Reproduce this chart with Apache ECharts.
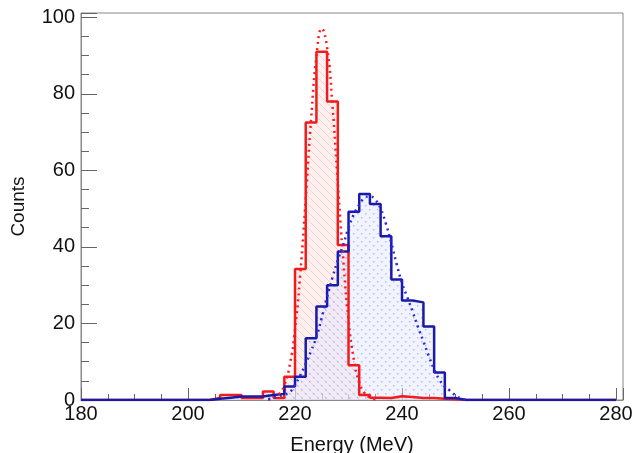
<!DOCTYPE html>
<html><head><meta charset="utf-8">
<script src="https://cdn.jsdelivr.net/npm/echarts@6/dist/echarts.min.js"></script>
<style>html,body{margin:0;padding:0;background:#fff}#c{width:633px;height:453px}</style>
</head><body><div id="c"></div>
<script>
// Bin lower edges (MeV), 2 MeV bins
const binLow = [180,182,184,186,188,190,192,194,196,198,200,202,204,206,208,210,212,214,216,218,
                220,222,224,226,228,230,232,234,236,238,240,242,244,246,248,250,252,254,256,258,
                260,262,264,266,268,270,272,274,276,278];
const binHigh = 280;
const redCounts = [0,0,0,0,0,0,0,0,0,0,0,0,0.5,1.3,1.3,0.5,0.5,2.2,0.5,6.1,
                   34.2,72.5,91,78,40.5,9.1,1.3,0.6,0.5,1.0,0.8,0.5,0.5,0.3,0.2,0,0,0,0,0,
                   0,0,0,0,0,0,0,0,0,0];
const blueCounts = [0,0,0,0,0,0,0,0,0,0,0,0,0.3,0.6,0.9,0.9,0.9,1.3,1.6,3.5,
                    6.1,16.1,24.4,30,38.8,49.2,53.8,51.2,42.8,31.5,26,25.5,19.2,7.2,0.5,0,0,0,0,0,
                    0,0,0,0,0,0,0,0,0,0];
// Fit curves
const redFitX = [215,216,217,218,219,220,221,222,223,224,225,226,227,228,229,230,231,232,233,234,235];
const redFitY = [0.1,0.5,1.5,3.9,9.0,18.4,33.3,52.5,73.2,89.8,97,92.1,77.0,56.7,36.8,21.0,10.5,4.6,1.8,0.6,0.1];
const blueFitX = [215,216,217,218,219,220,221,222,223,224,225,226,227,228,229,230,231,232,233,234,235,236,
                  237,238,239,240,241,242,243,244,245,246,247,248,249,250,251,252];
const blueFitY = [0.2,0.5,1.0,1.4,2.0,4.0,6.5,9.5,12.8,16.5,21.5,27,32,36.5,40.5,45,48.5,51,52.8,53.2,52.3,50,
                  46,41,35.5,30.5,26.8,23,19,15.3,11.5,8,5.3,3.5,2.4,1.2,0.4,0];
const xTicks = [180,200,220,240,260,280];
const yTicks = [0,20,40,60,80,100];

function histData(counts){
  const d = binLow.map((x,i)=>[x,counts[i]]);
  d.push([binHigh,0]);
  return d;
}
function pattern(bg, fg, kind){
  const c = document.createElement('canvas');
  c.width = 8; c.height = 8;
  const g = c.getContext('2d');
  g.fillStyle = bg; g.fillRect(0,0,8,8);
  if (kind === 'diag') {
    g.strokeStyle = fg; g.lineWidth = 1;
    g.beginPath(); g.moveTo(-1,-1); g.lineTo(9,9); g.stroke();
  } else {
    g.fillStyle = fg; g.fillRect(1,1,1.5,1.5); g.fillRect(5,5,1.5,1.5);
  }
  return c;
}
const font = 'Liberation Sans, Arial, sans-serif';
const chart = echarts.init(document.getElementById('c'), null, {renderer:'canvas'});
chart.setOption({
  animation:false,
  backgroundColor:'#fff',
  grid:{left:81,right:10,top:13,bottom:53,containLabel:false,outerBoundsMode:'none',
        show:true,borderColor:'#888',borderWidth:1,backgroundColor:'#fff'},
  xAxis:{type:'value',min:180,max:281.3,interval:20,
    name:'Energy (MeV)',nameLocation:'middle',nameGap:35,
    nameTextStyle:{fontFamily:font,fontSize:20,color:'#111'},
    axisLine:{show:true,lineStyle:{color:'#888',width:1}},
    axisTick:{show:true,inside:true,length:12,lineStyle:{color:'#666'}},
    minorTick:{show:true,splitNumber:4,length:6,lineStyle:{color:'#666'}},
    splitLine:{show:false},
    axisLabel:{fontFamily:font,fontSize:20,color:'#111',margin:4,
      formatter:v=>xTicks.includes(v)?String(v):''}},
  yAxis:{type:'value',min:0,max:101.1,interval:20,
    name:'Counts',nameLocation:'middle',nameGap:53,nameRotate:90,
    nameTextStyle:{fontFamily:font,fontSize:19,color:'#111'},
    axisLine:{show:true,lineStyle:{color:'#888',width:1}},
    axisTick:{show:true,inside:true,length:16,lineStyle:{color:'#666'}},
    minorTick:{show:true,splitNumber:4,length:8,lineStyle:{color:'#666'}},
    splitLine:{show:false},
    axisLabel:{fontFamily:font,fontSize:20,color:'#111',margin:6,
      formatter:v=>yTicks.includes(v)?String(v):''}},
  series:[
    {type:'line',step:'end',data:histData(redCounts),symbol:'none',
     lineStyle:{width:0},
     areaStyle:{color:{image:pattern('rgba(255,225,225,0.5)','rgba(240,110,110,0.25)','diag'),repeat:'repeat'},opacity:1},z:1},
    {type:'line',step:'end',data:histData(blueCounts),symbol:'none',
     lineStyle:{width:0},
     areaStyle:{color:{image:pattern('rgba(225,228,255,0.45)','rgba(90,90,230,0.35)','dot'),repeat:'repeat'},opacity:1},z:1},
    {type:'line',step:'end',data:histData(redCounts),symbol:'none',
     lineStyle:{color:'#ee1c1c',width:2.5},z:3},
    {type:'line',step:'end',data:histData(blueCounts),symbol:'none',
     lineStyle:{color:'#1a1aa8',width:2.5},z:4},
    {type:'line',data:redFitX.map((x,i)=>[x,redFitY[i]]),symbol:'none',smooth:true,
     lineStyle:{color:'#ff1a1a',width:2.5,type:[2,4]},z:5},
    {type:'line',data:blueFitX.map((x,i)=>[x,blueFitY[i]]),symbol:'none',smooth:true,
     lineStyle:{color:'#2828e0',width:2.5,type:[2,4]},z:5}
  ]
});
</script></body></html>
